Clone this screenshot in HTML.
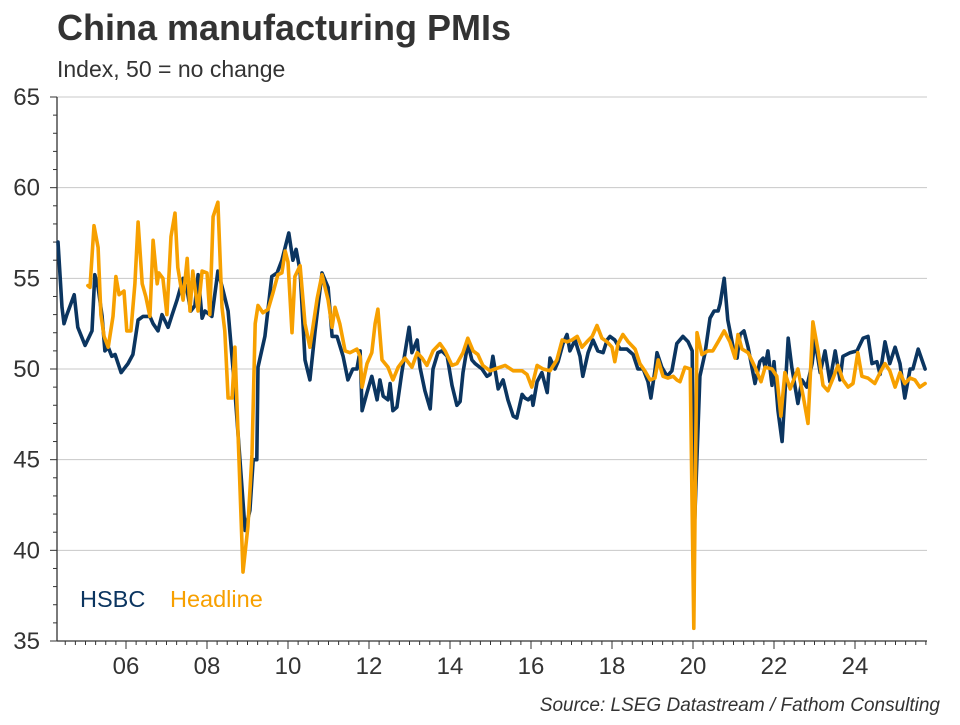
<!DOCTYPE html>
<html><head><meta charset="utf-8">
<style>
html,body{margin:0;padding:0;background:#fff;}
body{width:960px;height:720px;overflow:hidden;font-family:"Liberation Sans",Arial,sans-serif;}
</style></head>
<body>
<svg id="chart" width="960" height="720" viewBox="0 0 960 720" xmlns="http://www.w3.org/2000/svg" font-family="Liberation Sans, Arial, sans-serif">
<rect width="960" height="720" fill="#fff"/>
<text x="57" y="40" font-size="36" font-weight="bold" fill="#333">China manufacturing PMIs</text>
<text x="57" y="77" font-size="23" fill="#333">Index, 50 = no change</text>
<g id="grid"></g>
<g id="axes"></g>
<g id="series"></g>
<text x="80" y="607" font-size="23.5" fill="#0b3560">HSBC</text>
<text x="170" y="607" font-size="23.5" fill="#f7a000">Headline</text>
<text x="940" y="711" font-size="19" font-style="italic" fill="#333" text-anchor="end">Source: LSEG Datastream / Fathom Consulting</text>
</svg>
<script>
const yTicks=[35,40,45,50,55,60,65];
const xTickLabels=["06","08","10","12","14","16","18","20","22","24"];
const xTickYears=[2006,2008,2010,2012,2014,2016,2018,2020,2022,2024];
const hsbcDates=[2004.32,2004.42,2004.47,2004.54,2004.72,2004.81,2004.99,2005.16,2005.23,2005.31,2005.41,2005.48,2005.56,2005.65,2005.73,2005.88,2006.05,2006.17,2006.30,2006.42,2006.59,2006.67,2006.79,2006.89,2007.04,2007.14,2007.26,2007.41,2007.51,2007.60,2007.70,2007.78,2007.88,2007.95,2008.12,2008.27,2008.40,2008.52,2008.69,2008.81,2008.94,2009.06,2009.14,2009.23,2009.26,2009.43,2009.60,2009.73,2009.85,2010.02,2010.12,2010.20,2010.30,2010.42,2010.54,2010.67,2010.84,2010.99,2011.09,2011.21,2011.36,2011.48,2011.60,2011.70,2011.78,2011.83,2011.95,2012.07,2012.20,2012.27,2012.35,2012.47,2012.52,2012.59,2012.69,2012.81,2012.89,2012.99,2013.06,2013.19,2013.26,2013.38,2013.51,2013.58,2013.70,2013.80,2013.93,2014.05,2014.17,2014.25,2014.32,2014.44,2014.54,2014.62,2014.79,2014.91,2014.99,2015.06,2015.19,2015.31,2015.43,2015.56,2015.65,2015.78,2015.85,2015.93,2016.02,2016.05,2016.15,2016.27,2016.40,2016.47,2016.59,2016.67,2016.79,2016.89,2016.96,2017.09,2017.21,2017.28,2017.41,2017.53,2017.65,2017.78,2017.88,2017.95,2018.07,2018.20,2018.37,2018.52,2018.64,2018.77,2018.89,2018.96,2019.06,2019.11,2019.23,2019.36,2019.48,2019.60,2019.75,2019.88,2019.98,2020.02,2020.17,2020.30,2020.42,2020.52,2020.62,2020.67,2020.77,2020.86,2020.99,2021.09,2021.16,2021.26,2021.36,2021.53,2021.65,2021.73,2021.78,2021.85,2021.95,2022.00,2022.10,2022.20,2022.35,2022.44,2022.59,2022.69,2022.81,2022.94,2023.01,2023.14,2023.26,2023.38,2023.51,2023.63,2023.70,2023.88,2024.05,2024.20,2024.32,2024.42,2024.54,2024.62,2024.74,2024.86,2024.99,2025.11,2025.23,2025.36,2025.43,2025.56,2025.73];
const hsbcValues=[57.0,53.4,52.5,53.0,54.1,52.3,51.3,52.1,55.2,54.5,52.9,51.0,51.2,50.7,50.8,49.8,50.3,50.8,52.7,52.9,52.9,52.5,52.1,53.0,52.3,53.0,53.8,55.0,54.3,53.2,53.5,55.2,52.8,53.2,52.9,55.4,54.3,53.2,48.8,45.1,41.1,42.2,45.0,45.0,50.1,51.8,55.1,55.3,56.0,57.5,56.0,56.6,55.4,50.5,49.4,52.1,55.3,54.5,51.8,51.8,50.7,49.4,50.0,50.0,51.0,47.7,48.7,49.6,48.3,49.4,48.5,48.3,49.2,47.7,47.9,49.8,50.9,52.3,50.9,51.6,50.1,48.8,47.8,50.0,50.9,51.0,50.7,49.1,48.0,48.2,49.8,51.4,50.5,50.3,50.0,49.6,49.7,50.7,48.9,49.4,48.3,47.4,47.3,48.6,48.4,48.3,48.5,48.0,49.3,49.8,48.7,50.6,50.0,50.4,51.4,51.9,51.0,51.6,50.7,49.6,50.9,51.6,51.0,50.9,51.6,51.8,51.6,51.1,51.1,50.8,50.0,50.0,49.3,48.4,49.9,50.9,50.1,49.6,49.9,51.4,51.8,51.5,51.0,40.3,49.6,50.9,52.8,53.2,53.2,53.6,55.0,52.7,51.2,50.6,51.9,52.1,51.2,49.2,50.4,50.6,50.1,51.0,49.1,50.4,47.7,46.0,51.7,50.1,48.1,49.4,49.0,50.3,51.6,49.8,51.0,49.3,51.0,49.4,50.7,50.9,51.0,51.7,51.8,50.3,50.4,49.7,51.5,50.3,51.2,50.3,48.4,50.0,50.0,51.1,50.0];
const headlineDates=[2005.06,2005.11,2005.21,2005.31,2005.38,2005.46,2005.56,2005.68,2005.75,2005.83,2005.95,2006.02,2006.12,2006.22,2006.30,2006.40,2006.49,2006.59,2006.67,2006.77,2006.81,2006.91,2007.01,2007.11,2007.21,2007.28,2007.41,2007.51,2007.58,2007.65,2007.78,2007.88,2008.00,2008.07,2008.15,2008.27,2008.37,2008.44,2008.52,2008.62,2008.69,2008.77,2008.89,2009.01,2009.11,2009.19,2009.26,2009.38,2009.51,2009.63,2009.75,2009.85,2009.93,2010.00,2010.10,2010.17,2010.30,2010.42,2010.54,2010.72,2010.84,2010.99,2011.09,2011.16,2011.28,2011.41,2011.53,2011.70,2011.78,2011.83,2011.95,2012.07,2012.15,2012.22,2012.32,2012.47,2012.59,2012.72,2012.89,2013.06,2013.19,2013.31,2013.43,2013.58,2013.75,2013.88,2014.05,2014.17,2014.32,2014.44,2014.57,2014.69,2014.81,2014.99,2015.11,2015.36,2015.56,2015.78,2015.90,2016.02,2016.15,2016.30,2016.47,2016.64,2016.77,2016.89,2017.01,2017.14,2017.26,2017.38,2017.51,2017.63,2017.75,2017.88,2018.00,2018.07,2018.15,2018.27,2018.40,2018.57,2018.69,2018.81,2018.94,2019.06,2019.14,2019.26,2019.38,2019.51,2019.60,2019.68,2019.80,2019.93,2020.02,2020.10,2020.22,2020.37,2020.49,2020.62,2020.77,2020.91,2021.04,2021.11,2021.21,2021.36,2021.53,2021.68,2021.78,2021.95,2022.07,2022.17,2022.27,2022.40,2022.59,2022.72,2022.84,2022.96,2023.09,2023.21,2023.33,2023.46,2023.58,2023.70,2023.83,2023.95,2024.07,2024.17,2024.32,2024.49,2024.62,2024.74,2024.86,2024.99,2025.11,2025.23,2025.36,2025.48,2025.60,2025.73];
const headlineValues=[54.6,54.5,57.9,56.7,53.0,51.8,51.2,52.9,55.1,54.1,54.3,52.1,52.1,54.7,58.1,54.7,54.0,52.9,57.1,54.7,55.3,55.0,53.0,57.3,58.6,55.6,53.8,56.1,53.2,55.4,53.2,55.4,55.3,53.0,58.4,59.2,53.4,52.1,48.4,48.4,51.2,46.2,38.8,41.3,45.3,52.5,53.5,53.1,53.3,54.2,55.2,55.3,56.5,55.9,52.0,55.1,55.7,52.5,51.2,53.9,55.2,53.8,52.3,53.4,52.5,51.0,50.9,51.1,50.7,49.0,50.3,50.9,52.5,53.3,50.5,50.1,49.4,50.1,50.6,50.1,50.9,50.6,50.2,51.0,51.4,51.0,50.2,50.3,50.9,51.7,51.0,50.8,50.2,49.9,50.0,50.2,49.9,49.9,49.7,49.0,50.2,50.0,49.9,50.5,51.6,51.5,51.6,51.8,51.2,51.5,51.8,52.4,51.7,51.5,51.2,50.4,51.4,51.9,51.5,51.1,50.3,49.9,49.4,49.5,50.5,49.6,49.5,49.6,49.4,49.3,50.1,50.0,35.7,52.0,50.8,51.0,51.0,51.5,52.1,51.5,50.6,51.9,51.1,50.9,50.1,49.3,50.1,50.0,49.6,47.4,49.8,48.9,50.0,48.5,47.0,52.6,51.0,49.1,48.8,49.5,50.2,49.4,49.0,49.2,50.9,49.6,49.5,49.2,49.8,50.3,49.9,49.0,49.8,49.2,49.5,49.4,49.0,49.2];

const NS="http://www.w3.org/2000/svg";
const X0=57,X1=927,Y0=97,Y1=641;
const xScale=t=>126+(t-2006)*40.5;
const yScale=v=>Y1-(v-35)*(Y1-Y0)/30;
function mk(tag,attrs,parent){const e=document.createElementNS(NS,tag);for(const k in attrs)e.setAttribute(k,attrs[k]);parent.appendChild(e);return e;}
const grid=document.getElementById('grid'),axes=document.getElementById('axes'),series=document.getElementById('series');

yTicks.forEach(v=>{
  const y=yScale(v);
  if(v>35){const g=mk('line',{x1:X0,x2:X1,y1:y,y2:y,stroke:'#c8c8c8','stroke-width':1},grid);
  
  }
  const t=mk('text',{x:40,y:y+8,'font-size':24,fill:'#333','text-anchor':'end'},axes);
  t.textContent=v;
  
  
  mk('line',{x1:50,x2:X0,y1:y,y2:y,stroke:'#333','stroke-width':1},axes);
});
for(let v=36;v<65;v++){if(v%5===0)continue;const y=yScale(v);mk('line',{x1:53,x2:X0,y1:y,y2:y,stroke:'#333','stroke-width':1},axes);}
const yAxis=mk('line',{x1:X0,x2:X0,y1:Y0,y2:Y1,stroke:'#333','stroke-width':1.3},axes);


const xAxis=mk('line',{x1:X0,x2:X1,y1:Y1,y2:Y1,stroke:'#333','stroke-width':1.3},axes);


for(let q=2004.5;q<=2025.8;q+=0.25){const x=xScale(q);if(x<X0||x>X1)continue;mk('line',{x1:x,x2:x,y1:Y1,y2:Y1+4,stroke:'#333','stroke-width':1},axes);}
xTickYears.forEach((yr,i)=>{
  const x=xScale(yr);
  mk('line',{x1:x,x2:x,y1:Y1,y2:Y1+8,stroke:'#333','stroke-width':1},axes);
  const t=mk('text',{x:x,y:674,'font-size':24,fill:'#333','text-anchor':'middle'},axes);
  t.textContent=xTickLabels[i];
  
  
});
function line(dates,vals,color,name){
  const d=dates.map((t,i)=>(i?'L':'M')+xScale(t).toFixed(1)+','+yScale(vals[i]).toFixed(1)).join('');
  const p=mk('path',{d:d,fill:'none',stroke:color,'stroke-width':3.6,'stroke-linejoin':'round','stroke-linecap':'round'},series);
  
  
}
line(hsbcDates,hsbcValues,'#0b3560','hsbc-line');
line(headlineDates,headlineValues,'#f7a000','headline-line');
</script>
</body></html>
